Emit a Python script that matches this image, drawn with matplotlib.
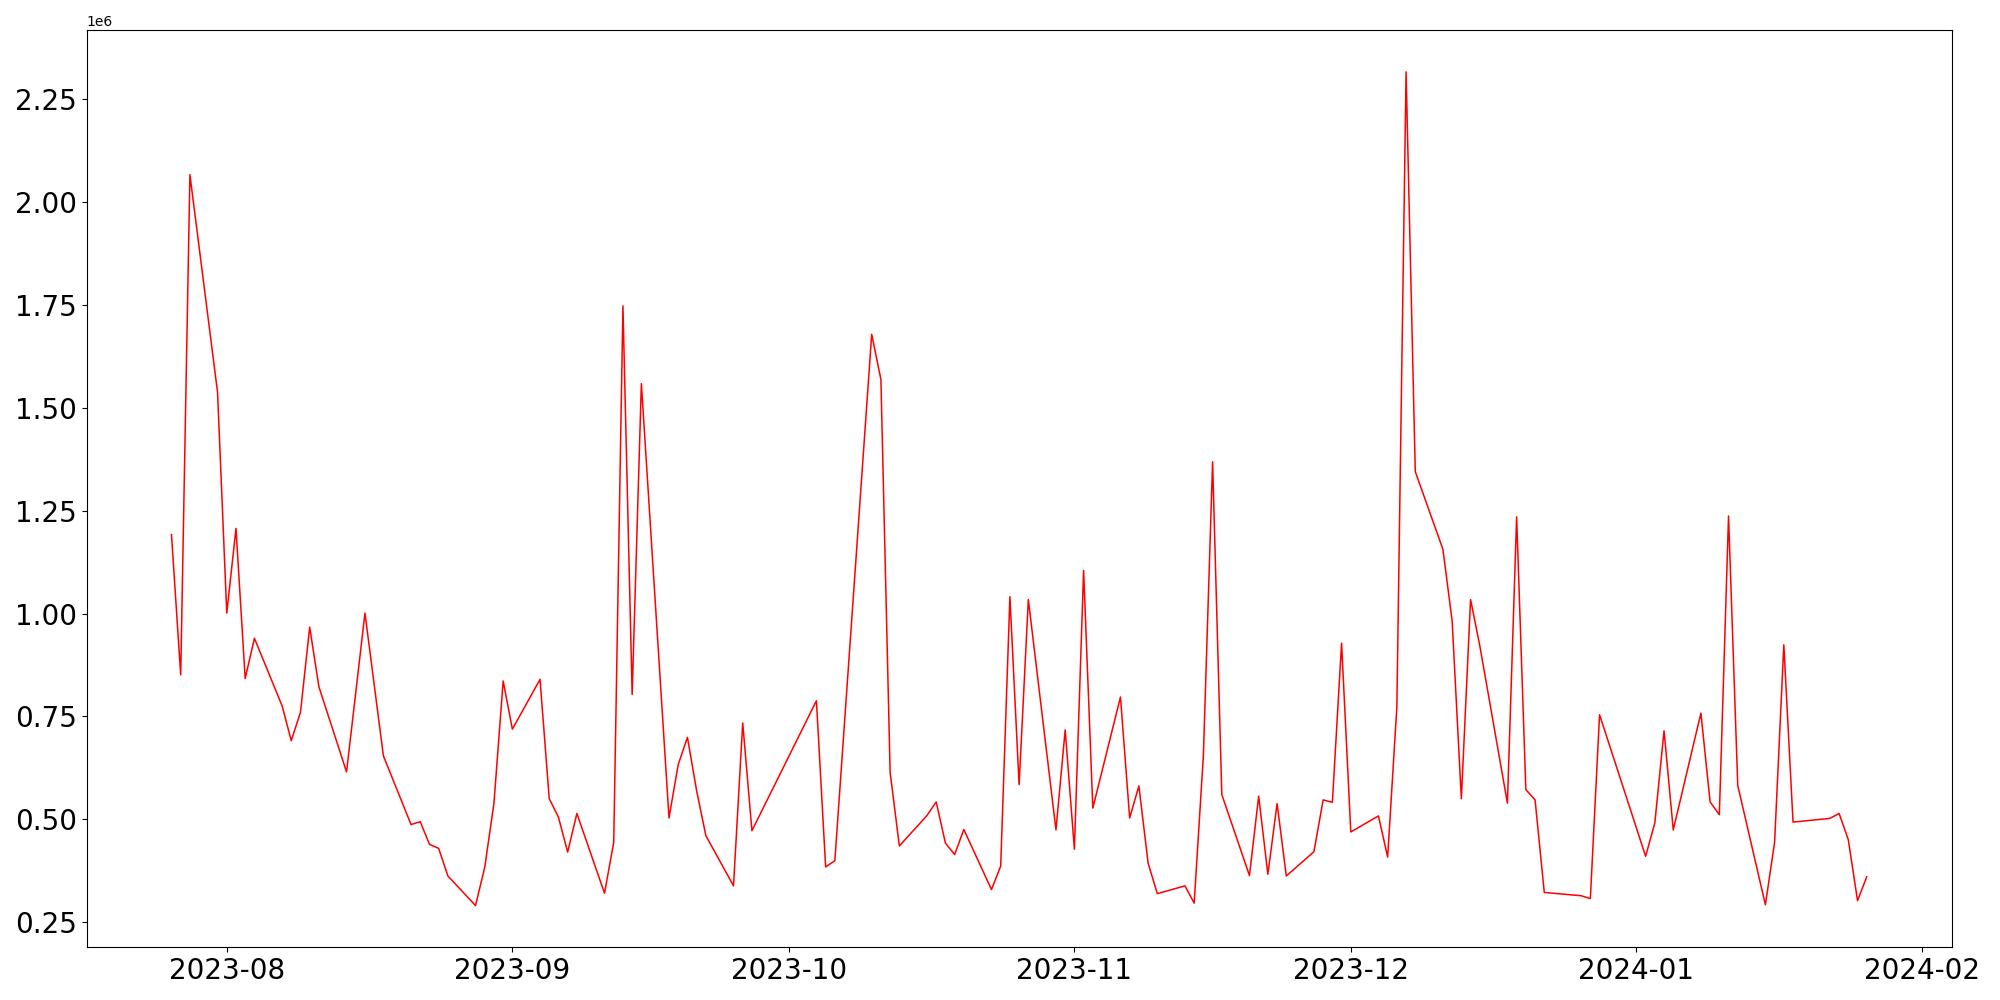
import numpy as np
import pandas as pd
import matplotlib
matplotlib.use("Agg")
import matplotlib.pyplot as plt

# daily values (units of 1e6 in the picture)
dates = [
    "2023-07-26", "2023-07-27", "2023-07-28", "2023-07-31",
    "2023-08-01", "2023-08-02", "2023-08-03", "2023-08-04",
    "2023-08-07", "2023-08-08", "2023-08-09", "2023-08-10", "2023-08-11",
    "2023-08-14", "2023-08-16", "2023-08-18",
    "2023-08-21", "2023-08-22", "2023-08-23", "2023-08-24", "2023-08-25",
    "2023-08-28", "2023-08-29", "2023-08-30", "2023-08-31", "2023-09-01",
    "2023-09-04", "2023-09-05", "2023-09-06", "2023-09-07", "2023-09-08",
    "2023-09-11", "2023-09-12", "2023-09-13", "2023-09-14", "2023-09-15",
    "2023-09-18", "2023-09-19", "2023-09-20", "2023-09-21", "2023-09-22",
    "2023-09-25", "2023-09-26", "2023-09-27",
    "2023-10-04", "2023-10-05", "2023-10-06",
    "2023-10-10", "2023-10-11", "2023-10-12", "2023-10-13",
    "2023-10-16", "2023-10-17", "2023-10-18", "2023-10-19", "2023-10-20",
    "2023-10-23", "2023-10-24", "2023-10-25", "2023-10-26", "2023-10-27",
    "2023-10-30", "2023-10-31", "2023-11-01", "2023-11-02", "2023-11-03",
    "2023-11-06", "2023-11-07", "2023-11-08", "2023-11-09", "2023-11-10",
    "2023-11-13", "2023-11-14", "2023-11-15", "2023-11-16", "2023-11-17",
    "2023-11-20", "2023-11-21", "2023-11-22", "2023-11-23", "2023-11-24",
    "2023-11-27", "2023-11-28", "2023-11-29", "2023-11-30", "2023-12-01",
    "2023-12-04", "2023-12-05", "2023-12-06", "2023-12-07", "2023-12-08",
    "2023-12-11", "2023-12-12", "2023-12-13", "2023-12-14", "2023-12-15",
    "2023-12-18", "2023-12-19", "2023-12-20", "2023-12-21", "2023-12-22",
    "2023-12-26", "2023-12-27", "2023-12-28",
    "2024-01-02", "2024-01-03", "2024-01-04", "2024-01-05",
    "2024-01-08", "2024-01-09", "2024-01-10", "2024-01-11", "2024-01-12",
    "2024-01-15", "2024-01-16", "2024-01-17", "2024-01-18",
    "2024-01-22", "2024-01-23", "2024-01-24", "2024-01-25", "2024-01-26",
]

values = [
    1.192, 0.851, 2.067, 1.538,
    1.001, 1.207, 0.842, 0.940,
    0.776, 0.691, 0.760, 0.967, 0.822,
    0.615, 1.001, 0.654,
    0.487, 0.494, 0.439, 0.429, 0.362,
    0.290, 0.383, 0.539, 0.836, 0.719,
    0.840, 0.550, 0.505, 0.420, 0.514,
    0.320, 0.444, 1.748, 0.803, 1.559,
    0.503, 0.633, 0.699, 0.569, 0.460,
    0.338, 0.734, 0.472,
    0.788, 0.384, 0.399,
    1.679, 1.569, 0.614, 0.435,
    0.509, 0.542, 0.442, 0.414, 0.475,
    0.329, 0.386, 1.041, 0.584, 1.034,
    0.474, 0.717, 0.427, 1.105, 0.527,
    0.797, 0.503, 0.581, 0.393, 0.319,
    0.338, 0.296, 0.655, 1.369, 0.560,
    0.363, 0.556, 0.366, 0.538, 0.362,
    0.421, 0.547, 0.541, 0.928, 0.469,
    0.508, 0.408, 0.773, 2.317, 1.345,
    1.156, 0.982, 0.550, 1.034, 0.922,
    0.539, 1.235, 0.572, 0.547, 0.322,
    0.314, 0.307, 0.754,
    0.410, 0.491, 0.715, 0.474,
    0.758, 0.542, 0.511, 1.237, 0.582,
    0.292, 0.444, 0.924, 0.493,
    0.502, 0.514, 0.450, 0.302, 0.360,
]

x = pd.to_datetime(dates)
y = np.array(values) * 1e6

fig, ax = plt.subplots(figsize=(20, 10), dpi=100)
ax.plot(x, y, color='red', linewidth=1.1)
plt.xticks(fontsize=20)
plt.yticks(fontsize=20)
plt.tight_layout()
plt.savefig("out.png")
